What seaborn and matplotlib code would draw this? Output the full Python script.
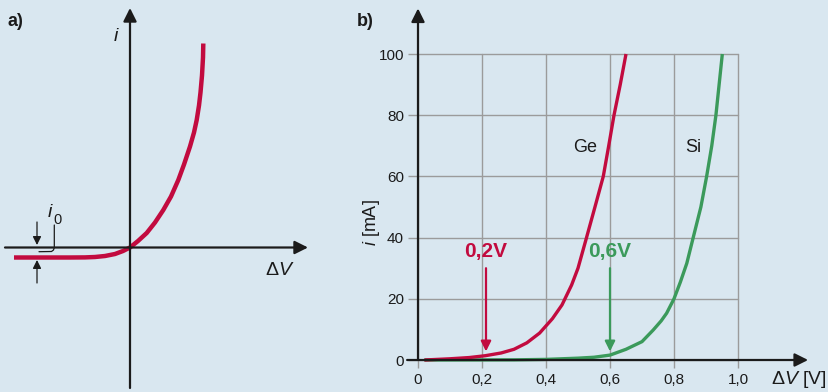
import matplotlib
matplotlib.use("Agg")
import matplotlib.pyplot as plt
import seaborn as sns
import pandas as pd

# === Data read from the reference
# panel a) sketch curve (arbitrary units, origin at the axes crossing)
sketch_v = [-116, -60, -45, -35, -25, -15, -7, 0, 8, 16.7, 25, 33.3, 41, 48.3,
            54, 60, 64, 66.7, 69, 70.5, 72, 73, 73.3]
sketch_i = [-10, -10, -9.9, -9.5, -8.5, -6.5, -3.5, 0, 6.5, 14.5, 25, 37.5, 51, 67.5,
            83, 101, 115, 127.5, 142, 155, 172, 190, 204]

# panel b) diode characteristics, dV in volts, i in mA
ge_v = [0.02, 0.10, 0.16, 0.21, 0.26, 0.30, 0.34, 0.38, 0.42, 0.45, 0.48, 0.50,
        0.524, 0.553, 0.579, 0.596, 0.6125, 0.632, 0.65]
ge_i = [0.0, 0.4, 0.8, 1.4, 2.3, 3.5, 5.6, 8.8, 13.5, 18, 24.5, 30,
        39, 50, 60, 70, 80, 90, 100]
si_v = [0.02, 0.30, 0.40, 0.50, 0.55, 0.60, 0.65, 0.70, 0.735, 0.76, 0.777, 0.80,
        0.82, 0.84, 0.86, 0.884, 0.902, 0.918, 0.931, 0.941, 0.951]
si_i = [0.0, 0.05, 0.2, 0.6, 0.9, 1.6, 3.5, 6.0, 9.8, 12.8, 15.3, 20,
        25.5, 31.6, 40, 50, 60, 70, 80, 90, 100]

x_ticks = [0, 0.2, 0.4, 0.6, 0.8, 1.0]
x_tick_labels = ["0", "0,2", "0,4", "0,6", "0,8", "1,0"]
y_ticks = [0, 20, 40, 60, 80, 100]

threshold_v = [0.2125, 0.6]
threshold_labels = ["0,2V", "0,6V"]

# === Styling
BG = "#d9e7f0"
RED = "#c20b3f"
GREEN = "#3b9a5b"
GRID = "#9b9b9b"
INK = "#1b1b1b"

sns.set_theme(style="white")
plt.rcParams["font.family"] = ["Liberation Sans", "DejaVu Sans"]
plt.rcParams["mathtext.fontset"] = "custom"
plt.rcParams["mathtext.rm"] = "Liberation Sans"
plt.rcParams["mathtext.it"] = "Liberation Sans:italic"

fig = plt.figure(figsize=(8.29, 3.92), dpi=100)
fig.patch.set_facecolor(BG)

arrow_head = "-|>,head_length=0.5,head_width=0.25"

# === Panel a)
ax_a = fig.add_axes([0, 0, 320 / 829, 1])
ax_a.set_xlim(-130, 190)
ax_a.set_ylim(-144.5, 247.5)
ax_a.axis("off")

ax_a.annotate("", xy=(178, 0), xytext=(-125, 0),
              arrowprops=dict(arrowstyle=arrow_head, color=INK, lw=1.6,
                              mutation_scale=16, shrinkA=0, shrinkB=0))
ax_a.annotate("", xy=(0, 239.5), xytext=(0, -140.5),
              arrowprops=dict(arrowstyle=arrow_head, color=INK, lw=1.6,
                              mutation_scale=16, shrinkA=0, shrinkB=0))

sns.lineplot(x=sketch_v, y=sketch_i, ax=ax_a, color=RED, lw=3.2, sort=False,
             solid_joinstyle="round", solid_capstyle="butt")

ax_a.text(-14, 211, "$i$", fontsize=14, color=INK, ha="center", va="center")
ax_a.text(150, -23, r"$\Delta V$", fontsize=14, color=INK, ha="center", va="center")
ax_a.text(-122, 226, "a)", fontsize=13, fontweight="bold", color=INK, ha="left", va="center")

# i0 marker
ax_a.text(-80, 35, "$i$", fontsize=14, color=INK, ha="center", va="center")
ax_a.text(-72.5, 28, "0", fontsize=10.5, color=INK, ha="center", va="center")
ax_a.plot([-75.7, -75.7, -76.5, -78.5, -91], [22.5, 0, -2.5, -4.0, -4.2], color=INK, lw=0.9)
ax_a.annotate("", xy=(-93, 2.5), xytext=(-93, 25.5),
              arrowprops=dict(arrowstyle="-|>,head_length=0.5,head_width=0.25",
                              color=INK, lw=0.9, mutation_scale=10, shrinkA=0, shrinkB=0))
ax_a.annotate("", xy=(-93, -12.5), xytext=(-93, -35.5),
              arrowprops=dict(arrowstyle="-|>,head_length=0.5,head_width=0.25",
                              color=INK, lw=0.9, mutation_scale=10, shrinkA=0, shrinkB=0))

# === Panel b)
ax_b = fig.add_axes([418 / 829, 32 / 392, 320 / 829, 306 / 392])
ax_b.set_facecolor("none")
ax_b.set_xlim(0, 1)
ax_b.set_ylim(0, 100)
for s in ax_b.spines.values():
    s.set_visible(False)

ax_b.set_xticks(x_ticks)
ax_b.set_xticklabels(x_tick_labels)
ax_b.set_yticks(y_ticks)
ax_b.tick_params(axis="both", colors=GRID, labelcolor=INK, labelsize=11, width=1.0)
ax_b.tick_params(axis="x", length=6, pad=3, bottom=True)
ax_b.tick_params(axis="y", length=7, pad=3, left=True)
ax_b.grid(True, color=GRID, lw=1.0)
for gl in ax_b.get_xgridlines() + ax_b.get_ygridlines():
    gl.set_clip_on(False)

df = pd.concat([
    pd.DataFrame({"dV": si_v, "i": si_i, "diode": "Si"}),
    pd.DataFrame({"dV": ge_v, "i": ge_i, "diode": "Ge"}),
])
sns.lineplot(data=df, x="dV", y="i", hue="diode", palette={"Ge": RED, "Si": GREEN},
             lw=2.4, sort=False, legend=False, ax=ax_b, clip_on=False,
             solid_joinstyle="round", solid_capstyle="butt")
ax_b.set_xlabel("")
ax_b.set_ylabel("")

ax_b.annotate("", xy=(1.219, 0), xytext=(-0.034, 0), annotation_clip=False,
              arrowprops=dict(arrowstyle=arrow_head, color=INK, lw=1.6,
                              mutation_scale=16, shrinkA=0, shrinkB=0))
ax_b.annotate("", xy=(0, 114.9), xytext=(0, 0), annotation_clip=False,
              arrowprops=dict(arrowstyle=arrow_head, color=INK, lw=1.6,
                              mutation_scale=16, shrinkA=0, shrinkB=0))

ax_b.text(-0.144, 45, "$i$ [mA]", rotation=90, fontsize=13, color=INK,
          ha="center", va="center")
ax_b.text(1.103, -6.5, r"$\Delta V$ [V]", fontsize=14, color=INK,
          ha="left", va="center", clip_on=False)
ax_b.text(-0.19, 110.5, "b)", fontsize=13, fontweight="bold", color=INK,
          ha="left", va="center")

ax_b.text(0.522, 69.6, "Ge", fontsize=13, color=INK, ha="center", va="center")
ax_b.text(0.859, 69.6, "Si", fontsize=13, color=INK, ha="center", va="center")

for v, lab, col in zip(threshold_v, threshold_labels, [RED, GREEN]):
    ax_b.text(v, 35.5, lab, fontsize=15, fontweight="bold", color=col,
              ha="center", va="center")
    ax_b.annotate("", xy=(v, 2.8), xytext=(v, 30),
                  arrowprops=dict(arrowstyle="-|>,head_length=0.5,head_width=0.25",
                                  color=col, lw=1.6, mutation_scale=12,
                                  shrinkA=0, shrinkB=0))

fig.savefig("out.png", dpi=100, facecolor=BG)
